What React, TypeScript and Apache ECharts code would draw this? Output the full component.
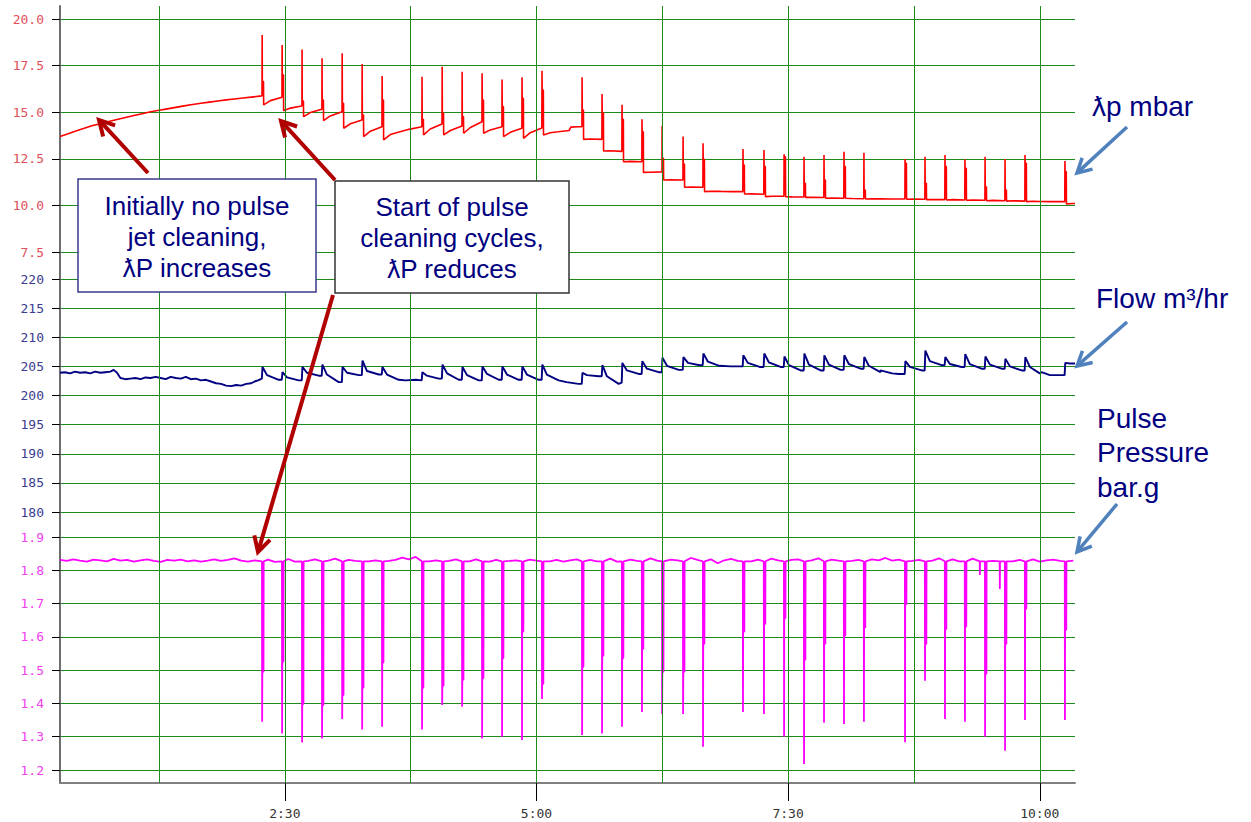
import React, { useEffect, useRef } from 'react';
import * as echarts from 'echarts';

// ---- time axis (minutes) ----
const xMin = 16;
const xMax = 621;
const vGridTimes = [75, 150, 225, 300, 375, 450, 525, 600];
const xLabelTimes = [150, 300, 450, 600];

// ---- pulse cleaning events (minutes) ----
const pulseTimes = [136.4, 148.3, 160.2, 172.1, 184.1, 196.0, 207.9, 231.7, 243.7, 255.6, 267.5, 279.4, 291.3, 303.2, 327.1, 339.0, 350.9, 362.8, 374.8, 387.3, 399.2, 423.0, 435.5, 447.5, 459.4, 471.3, 483.2, 495.1, 519.6, 531.5, 543.4, 555.3, 567.3, 579.2, 591.1, 614.9];

// ---- differential pressure (mbar) ----
const dpPre: [number, number][] = [[16, 13.70], [20, 13.82], [25, 13.98], [30, 14.12], [35, 14.27], [40, 14.38], [45, 14.50], [50, 14.61], [55, 14.72], [60, 14.82], [65, 14.92], [70, 15.02], [75, 15.10], [80, 15.18], [85, 15.26], [90, 15.34], [95, 15.41], [100, 15.48], [105, 15.54], [110, 15.60], [115, 15.66], [120, 15.71], [125, 15.76], [130, 15.81], [135, 15.86]];
const dpBefore = [15.87, 15.80, 15.33, 15.16, 15.03, 14.58, 14.22, 14.22, 14.37, 14.26, 14.49, 14.22, 14.14, 14.15, 14.22, 13.54, 12.90, 12.34, 11.80, 11.36, 10.97, 10.74, 10.60, 10.50, 10.45, 10.42, 10.38, 10.36, 10.34, 10.33, 10.31, 10.29, 10.28, 10.25, 10.23, 10.20];
const dpThick = [16.64, 17.00, 15.60, 15.65, 15.48, 14.85, 15.65, 14.62, 14.94, 14.76, 15.65, 15.30, 15.74, 16.19, 15.12, 14.96, 14.62, 13.95, 12.53, 12.22, 12.47, 12.17, 12.08, 12.61, 11.19, 11.36, 12.08, 10.83, 12.26, 11.19, 12.08, 11.99, 11.00, 10.83, 12.26, 11.81];
const dpTop = [19.14, 18.60, 18.37, 17.89, 18.16, 17.59, 16.94, 16.90, 17.44, 17.17, 17.09, 16.76, 16.87, 17.23, 16.87, 15.98, 15.40, 14.62, 14.26, 13.69, 13.33, 13.03, 12.97, 12.74, 12.61, 12.70, 12.88, 12.83, 12.49, 12.61, 12.70, 12.47, 12.61, 12.49, 12.70, 12.38];
const dpAfter = [15.39, 15.08, 14.76, 14.55, 14.14, 13.69, 13.51, 13.78, 13.78, 13.87, 13.87, 13.69, 13.60, 13.78, 13.54, 12.92, 12.34, 11.77, 11.36, 10.97, 10.74, 10.61, 10.47, 10.47, 10.43, 10.38, 10.38, 10.34, 10.33, 10.31, 10.29, 10.28, 10.25, 10.23, 10.20, 10.08];
const dpMid = [15.62, 15.22, 14.98, 14.80, 14.38, 13.98, 13.80, 14.10, 14.02, 14.18, 14.05, 13.92, 13.90, 13.90, 13.56, 12.93, 12.36, 11.78, 11.38, 10.98, 10.76, 10.62, 10.49, 10.46, 10.44, 10.40, 10.37, 10.35, 10.34, 10.32, 10.31, 10.29, 10.27, 10.25, 10.22, 10.10];
const dpExtra: [number, number][] = [[216, 13.88], [224, 14.08], [313, 13.95], [319.5, 14.02], [320.5, 14.20], [325, 14.22], [410, 10.75], [417, 10.74], [505, 10.35], [512, 10.34], [600, 10.21], [607, 10.20], [621, 10.10]];

// ---- flow (m3/hr) ----
const flowPre: [number, number][] = [[16, 203.9], [19, 204.0], [22, 203.8], [25, 204.1], [28, 203.9], [31, 204.0], [34, 203.8], [37, 204.1], [40, 203.9], [43, 204.0], [46, 204.1], [48, 204.4], [50, 203.9], [52, 203.0], [55, 202.8], [58, 202.9], [61, 203.0], [64, 202.8], [67, 203.1], [70, 203.0], [73, 203.2], [76, 203.0], [79, 202.8], [82, 203.2], [85, 203.0], [88, 202.9], [91, 203.2], [94, 202.8], [97, 202.9], [100, 202.6], [103, 202.7], [106, 202.4], [109, 202.1], [112, 202.0], [115, 201.7], [118, 201.6], [121, 201.8], [124, 201.7], [127, 202.0], [130, 202.1], [132, 202.4], [134, 202.6]];
const flowBefore = [202.9, 202.7, 202.6, 203.4, 202.3, 203.5, 203.6, 202.6, 202.9, 202.7, 202.6, 202.7, 202.7, 202.7, 202.0, 203.3, 202.2, 203.7, 204.0, 204.4, 205.2, 205.0, 204.9, 204.9, 204.3, 204.3, 204.4, 204.6, 203.7, 204.3, 205.2, 204.9, 204.6, 204.6, 204.3, 203.5];
const flowPeak = [204.9, 204.0, 204.9, 205.3, 204.9, 206.0, 204.9, 204.0, 205.3, 204.9, 205.0, 205.0, 205.0, 205.3, 203.9, 205.2, 205.6, 205.9, 206.5, 206.6, 207.2, 206.9, 207.2, 206.7, 207.2, 206.9, 206.9, 206.6, 205.9, 207.7, 206.6, 207.1, 206.7, 206.3, 206.6, 205.6];
const flowMid = [203.5, 203.1, 203.9, 203.6, 203.9, 204.2, 203.6, 203.4, 203.8, 203.5, 203.7, 203.6, 203.6, 203.6, 203.5, 203.3, 204.3, 204.6, 205.1, 205.6, 205.8, 205.6, 205.7, 205.2, 205.3, 205.3, 205.4, 205.1, 204.9, 205.9, 205.4, 205.4, 205.3, 205.0, 204.9, 205.5];
const flowLow = [202.7, 202.6, 203.4, 202.3, 203.5, 203.6, 202.7, 202.9, 202.7, 202.6, 202.7, 202.7, 202.7, 202.6, 203.3, 202.0, 203.7, 204.0, 204.4, 205.2, 205.2, 204.9, 204.9, 204.3, 204.3, 204.4, 204.6, 204.3, 204.3, 205.2, 204.9, 204.6, 204.6, 204.3, 204.0];
const flowExtra: [number, number][] = [[222, 202.6], [228, 202.7], [318, 202.3], [325, 202.0], [409, 205.1], [416, 205.0], [505, 204.0], [512, 203.8], [516, 203.7], [600, 203.8], [606, 203.5], [612, 203.5], [621, 205.5]];

// ---- pulse pressure (bar.g) ----
const ppLevel = 1.827;
const ppBaseStart = 16;
const ppBaseStep = 4;
const ppBaseValues = [
  1.831, 1.828, 1.833, 1.829, 1.826, 1.832, 1.830, 1.827, 1.834, 1.829,
  1.831, 1.826, 1.830, 1.833, 1.828, 1.825, 1.831, 1.829, 1.832, 1.827,
  1.830, 1.826, 1.829, 1.833, 1.828, 1.831, 1.836, 1.829, 1.826, 1.830,
  1.827, 1.832, 1.825, 1.829, 1.834, 1.826, 1.830, 1.828, 1.833, 1.827,
  1.829, 1.835, 1.826, 1.831, 1.828, 1.832, 1.827, 1.830, 1.834, 1.828,
  1.831, 1.838, 1.833, 1.840, 1.834, 1.827, 1.830, 1.832, 1.828, 1.833,
  1.830, 1.827, 1.833, 1.829, 1.826, 1.831, 1.835, 1.828, 1.830, 1.826,
  1.832, 1.829, 1.834, 1.827, 1.831, 1.826, 1.830, 1.833, 1.828, 1.831,
  1.827, 1.830, 1.835, 1.826, 1.829, 1.832, 1.828, 1.831, 1.836, 1.829,
  1.826, 1.832, 1.830, 1.827, 1.837, 1.831, 1.828, 1.833, 1.821, 1.830,
  1.834, 1.828, 1.831, 1.827, 1.832, 1.829, 1.835, 1.830, 1.826, 1.831,
  1.833, 1.828, 1.830, 1.836, 1.827, 1.832, 1.829, 1.834, 1.828, 1.831,
  1.827, 1.833, 1.830, 1.837, 1.829, 1.832, 1.835, 1.828, 1.831, 1.834,
  1.829, 1.836, 1.830, 1.833, 1.827, 1.831, 1.835, 1.829, 1.832, 1.828,
  1.830, 1.834, 1.827, 1.831, 1.829, 1.833, 1.826, 1.830, 1.832, 1.828,
  1.831, 1.829
];
const ppThick = [1.495, 1.526, 1.398, 1.395, 1.425, 1.447, 1.523, 1.447, 1.453, 1.471, 1.476, 1.536, 1.616, 1.459, 1.510, 1.543, 1.536, 1.564, 1.495, 1.495, 1.579, 1.616, 1.639, 1.656, 1.531, 1.579, 1.604, 1.628, 1.698, 1.579, 1.623, 1.631, 1.489, 1.579, 1.684, 1.621];
const ppDeep = [1.345, 1.310, 1.283, 1.295, 1.353, 1.322, 1.330, 1.322, 1.395, 1.390, 1.295, 1.300, 1.290, 1.413, 1.305, 1.310, 1.330, 1.374, 1.368, 1.368, 1.270, 1.374, 1.368, 1.300, 1.218, 1.342, 1.338, 1.345, 1.283, 1.468, 1.353, 1.345, 1.300, 1.258, 1.350, 1.350];
const ppSmallDips: [number, number][] = [[564.3, 1.786], [576.2, 1.744]];

// ---- panel axis ranges ----
const dpAxis = { min: 7.5, max: 20, interval: 2.5 };
const flowAxis = { min: 180, max: 220, interval: 5 };
const ppAxis = { min: 1.2, max: 1.9, interval: 0.1 };

const byTime = (a: [number, number], b: [number, number]) => a[0] - b[0];

function buildDp(): [number, number][] {
  const pts: [number, number][] = [...dpPre];
  pulseTimes.forEach((T, i) => {
    pts.push([T, dpBefore[i]], [T + 0.1, dpTop[i]], [T + 0.2, dpThick[i]], [T + 0.9, dpThick[i]], [T + 1.0, dpAfter[i]], [T + 5, dpMid[i]]);
  });
  pts.push(...dpExtra);
  return pts.sort(byTime);
}

function buildFlow(): [number, number][] {
  const pts: [number, number][] = [...flowPre];
  pulseTimes.forEach((T, i) => {
    pts.push([T - 0.1, flowBefore[i]], [T + 0.3, flowPeak[i]], [T + 3, flowMid[i]]);
    if (i < flowLow.length) pts.push([T + 10, flowLow[i]]);
  });
  pts.push(...flowExtra);
  return pts.sort(byTime);
}

function buildPp(): [number, number][] {
  const pts: [number, number][] = [];
  ppBaseValues.forEach((v, i) => {
    const t = ppBaseStart + i * ppBaseStep;
    const near = pulseTimes.some((T) => t > T - 0.6 && t < T + 1.6) || ppSmallDips.some(([d]) => Math.abs(t - d) < 0.6);
    if (!near) pts.push([t, v]);
  });
  pulseTimes.forEach((T, i) => {
    pts.push([T, ppLevel], [T + 0.1, ppDeep[i]], [T + 0.2, ppThick[i]], [T + 0.9, ppThick[i]], [T + 1.0, ppLevel]);
  });
  ppSmallDips.forEach(([t, v]) => {
    pts.push([t - 0.1, ppLevel], [t, v], [t + 0.1, ppLevel]);
  });
  return pts.sort(byTime);
}

function fmtTime(v: number): string {
  const h = Math.floor(v / 60);
  const m = Math.round(v - h * 60);
  return `${h}:${String(m).padStart(2, '0')}`;
}

function arrow(x1: number, y1: number, x2: number, y2: number, color: string, w: number, hl: number): any[] {
  const a = Math.atan2(y2 - y1, x2 - x1);
  const s = 0.5;
  const p1 = [x2 - hl * Math.cos(a - s), y2 - hl * Math.sin(a - s)];
  const p2 = [x2 - hl * Math.cos(a + s), y2 - hl * Math.sin(a + s)];
  return [
    { type: 'line', z: 100, shape: { x1, y1, x2: x2 - 2 * Math.cos(a), y2: y2 - 2 * Math.sin(a) }, style: { stroke: color, lineWidth: w } },
    { type: 'polyline', z: 100, shape: { points: [p1, [x2, y2], p2] }, style: { stroke: color, lineWidth: w, fill: null, lineJoin: 'miter' } },
  ];
}

function txt(text: string, x: number, y: number, size: number, align: string): any {
  return {
    type: 'text', z: 101, x, y,
    style: {
      text, fill: '#000080', font: `${size}px "Liberation Sans", Arial, sans-serif`,
      textAlign: align, textVerticalAlign: 'middle', align, verticalAlign: 'middle',
    },
  };
}

const GREEN = '#1e8a1e';
const MONO = '"DejaVu Sans Mono", monospace';

function panelY(gridIndex: number, ax: { min: number; max: number; interval: number }, color: string, digits: number): any {
  return {
    type: 'value', gridIndex, min: ax.min, max: ax.max, interval: ax.interval,
    axisLine: { show: false },
    axisTick: { show: true, length: 8, lineStyle: { color: '#000', width: 1 } },
    axisLabel: { color, fontFamily: MONO, fontSize: 13, margin: 16, formatter: (v: number) => v.toFixed(digits) },
    splitLine: { show: true, lineStyle: { color: GREEN, width: 1 } },
  };
}

function panelX(gridIndex: number): any {
  return { type: 'value', gridIndex, min: xMin, max: xMax, show: false, splitLine: { show: false } };
}

export default function App() {
  const ref = useRef<HTMLDivElement>(null);

  useEffect(() => {
    if (!ref.current) return;
    const chart = echarts.init(ref.current, undefined, { renderer: 'svg' });

    const graphic: any[] = [
      { type: 'rect', z: 99, shape: { x: 78, y: 179, width: 238, height: 113 }, style: { fill: '#fff', stroke: '#3a3a8c', lineWidth: 1.5 } },
      txt('Initially no pulse', 197, 206, 26, 'center'),
      txt('jet cleaning,', 197, 237, 26, 'center'),
      txt('ƛP increases', 197, 268, 26, 'center'),
      { type: 'rect', z: 99, shape: { x: 335, y: 181, width: 234, height: 112 }, style: { fill: '#fff', stroke: '#333', lineWidth: 1.5 } },
      txt('Start of pulse', 452, 207, 26, 'center'),
      txt('cleaning cycles,', 452, 238, 26, 'center'),
      txt('ƛP reduces', 452, 269, 26, 'center'),
      ...arrow(148, 173, 99, 120, '#b00000', 4, 17),
      ...arrow(335, 180, 281, 121, '#b00000', 4, 17),
      ...arrow(333, 295, 258, 552, '#b00000', 4, 17),
      txt('ƛp mbar', 1092, 106, 28, 'left'),
      txt('Flow m³/hr', 1096, 298, 28, 'left'),
      txt('Pulse', 1097, 418, 28, 'left'),
      txt('Pressure', 1097, 452, 28, 'left'),
      txt('bar.g', 1097, 487, 28, 'left'),
      ...arrow(1127, 127, 1077, 173, '#4f81bd', 3.5, 16),
      ...arrow(1127, 322, 1077, 366, '#4f81bd', 3.5, 16),
      ...arrow(1117, 504, 1077, 552, '#4f81bd', 3.5, 16),
    ];

    chart.setOption({
      animation: false,
      backgroundColor: '#fff',
      grid: [
        { left: 60, right: 176, top: 6, bottom: 39 },
        { left: 60, right: 176, top: 19, height: 233 },
        { left: 60, right: 176, top: 279, height: 233 },
        { left: 60, right: 176, top: 537, height: 233 },
      ],
      xAxis: [
        {
          type: 'value', gridIndex: 0, min: xMin, max: xMax,
          axisLine: { show: true, onZero: false, lineStyle: { color: '#808080', width: 2 } },
          axisTick: { show: true, customValues: xLabelTimes, length: 18, lineStyle: { color: '#000', width: 1 } },
          axisLabel: { show: true, customValues: xLabelTimes, formatter: fmtTime, color: '#333', fontFamily: MONO, fontSize: 13, margin: 24 },
          splitLine: { show: false },
        },
        panelX(1), panelX(2), panelX(3),
      ],
      yAxis: [
        {
          type: 'value', gridIndex: 0, min: 0, max: 1,
          axisLine: { show: true, onZero: false, lineStyle: { color: '#6e6e6e', width: 2 } },
          axisTick: { show: false }, axisLabel: { show: false }, splitLine: { show: false },
        },
        panelY(1, dpAxis, '#e0505a', 1),
        panelY(2, flowAxis, '#3c3c90', 0),
        panelY(3, ppAxis, '#f040f0', 1),
      ],
      series: [
        {
          type: 'line', xAxisIndex: 0, yAxisIndex: 0, z: 1, silent: true,
          data: [[xMin, 0.5], [xMax, 0.5]], symbol: 'none', lineStyle: { opacity: 0, width: 0 },
          markLine: {
            silent: true, symbol: ['none', 'none'], label: { show: false },
            lineStyle: { color: GREEN, width: 1, type: 'solid' },
            data: vGridTimes.map((t) => ({ xAxis: t })),
          },
        },
        {
          type: 'line', xAxisIndex: 1, yAxisIndex: 1, z: 3, data: buildDp(), symbol: 'none',
          lineStyle: { color: '#ff0000', width: 1.6 },
        },
        {
          type: 'line', xAxisIndex: 2, yAxisIndex: 2, z: 3, data: buildFlow(), symbol: 'none',
          lineStyle: { color: '#000080', width: 1.9 },
        },
        {
          type: 'line', xAxisIndex: 3, yAxisIndex: 3, z: 3, data: buildPp(), symbol: 'none',
          lineStyle: { color: '#ff00ff', width: 1.8 },
        },
      ],
      graphic,
    });

    return () => chart.dispose();
  }, []);

  return <div ref={ref} style={{ position: 'fixed', left: 0, top: 0, width: 1251, height: 822, background: '#fff' }} />;
}
